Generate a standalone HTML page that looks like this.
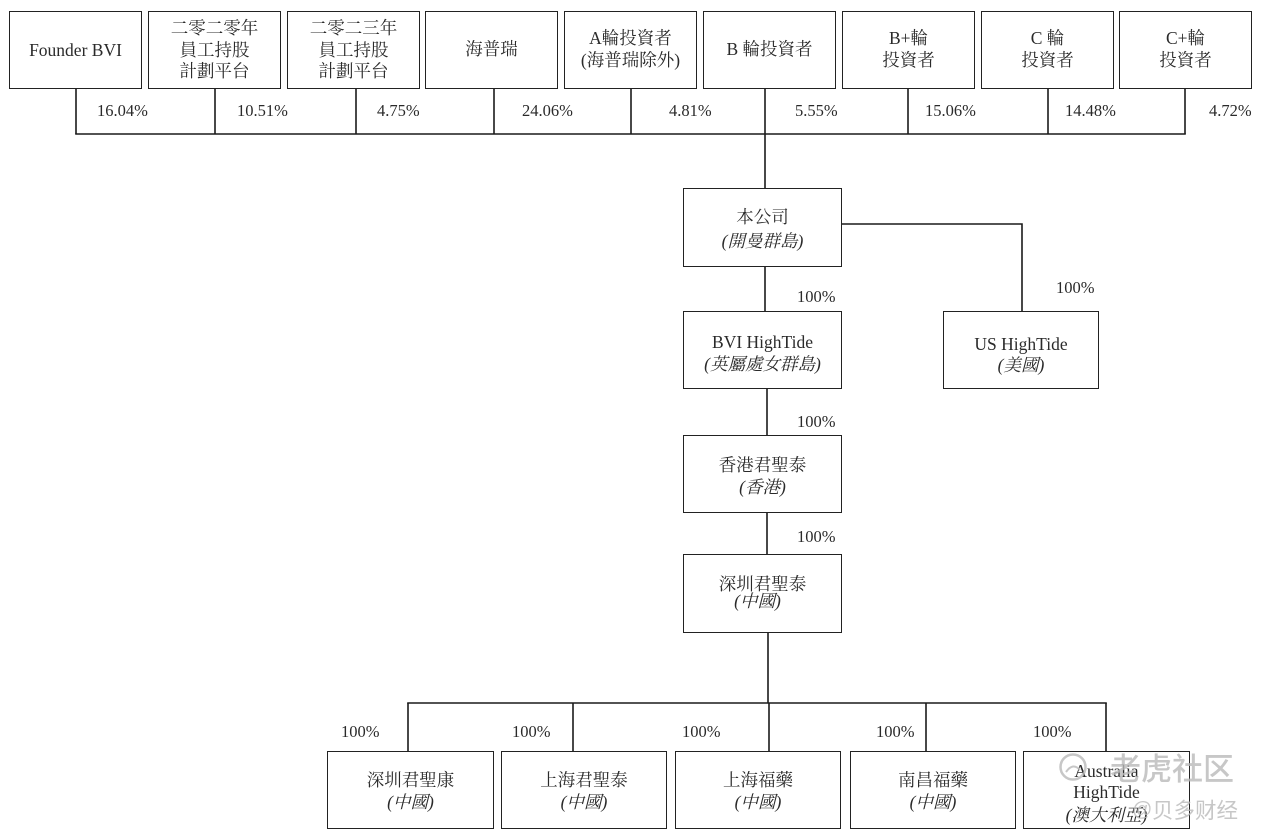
<!DOCTYPE html>
<html><head><meta charset="utf-8">
<style>
html,body{margin:0;padding:0;}
body{width:1262px;height:840px;background:#fff;position:relative;overflow:hidden;font-family:"Liberation Serif","Noto Serif CJK SC",serif;color:#2a2a2a;}
.b{position:absolute;border:1.5px solid #222;box-sizing:border-box;background:#fff;}
.t{position:absolute;text-align:center;font-size:17.5px;line-height:22px;height:22px;white-space:nowrap;}
.p{position:absolute;font-size:16.5px;line-height:20px;height:20px;white-space:nowrap;}
.i{font-style:italic;}
svg{position:absolute;left:0;top:0;}
.wm{position:absolute;white-space:nowrap;font-family:"Noto Sans CJK SC","Liberation Sans",sans-serif;color:rgba(185,185,185,0.8);}
</style></head><body>

<svg width="1262" height="840" viewBox="0 0 1262 840">
<g stroke="#1a1a1a" stroke-width="1.6" fill="none">
<line x1="76" y1="89" x2="76" y2="134"/>
<line x1="215" y1="89" x2="215" y2="134"/>
<line x1="356" y1="89" x2="356" y2="134"/>
<line x1="494" y1="89" x2="494" y2="134"/>
<line x1="631" y1="89" x2="631" y2="134"/>
<line x1="765" y1="89" x2="765" y2="188"/>
<line x1="908" y1="89" x2="908" y2="134"/>
<line x1="1048" y1="89" x2="1048" y2="134"/>
<line x1="1185" y1="89" x2="1185" y2="134"/>
<line x1="75.2" y1="134" x2="1185.8" y2="134"/>
<line x1="765" y1="267" x2="765" y2="311"/>
<polyline points="842,224 1022,224 1022,311"/>
<line x1="767" y1="389" x2="767" y2="435"/>
<line x1="767" y1="513" x2="767" y2="554"/>
<line x1="768" y1="633" x2="768" y2="703"/>
<line x1="407.2" y1="703" x2="1106.8" y2="703"/>
<line x1="408" y1="703" x2="408" y2="751"/>
<line x1="573" y1="703" x2="573" y2="751"/>
<line x1="769" y1="703" x2="769" y2="751"/>
<line x1="926" y1="703" x2="926" y2="751"/>
<line x1="1106" y1="703" x2="1106" y2="751"/>
</g>
</svg>

<div class="b" style="left:9px;top:11px;width:133px;height:78px;"></div>
<div class="b" style="left:148px;top:11px;width:133px;height:78px;"></div>
<div class="b" style="left:287px;top:11px;width:133px;height:78px;"></div>
<div class="b" style="left:425px;top:11px;width:133px;height:78px;"></div>
<div class="b" style="left:564px;top:11px;width:133px;height:78px;"></div>
<div class="b" style="left:703px;top:11px;width:133px;height:78px;"></div>
<div class="b" style="left:842px;top:11px;width:133px;height:78px;"></div>
<div class="b" style="left:981px;top:11px;width:133px;height:78px;"></div>
<div class="b" style="left:1119px;top:11px;width:133px;height:78px;"></div>

<div class="t" style="left:9px;width:133px;top:39px;">Founder BVI</div>
<div class="t" style="left:148px;width:133px;top:17px;">二零二零年</div>
<div class="t" style="left:148px;width:133px;top:39px;">員工持股</div>
<div class="t" style="left:148px;width:133px;top:60px;">計劃平台</div>
<div class="t" style="left:287px;width:133px;top:17px;">二零二三年</div>
<div class="t" style="left:287px;width:133px;top:39px;">員工持股</div>
<div class="t" style="left:287px;width:133px;top:60px;">計劃平台</div>
<div class="t" style="left:425px;width:133px;top:38px;">海普瑞</div>
<div class="t" style="left:564px;width:133px;top:27px;">A輪投資者</div>
<div class="t" style="left:564px;width:133px;top:49px;">(海普瑞除外)</div>
<div class="t" style="left:703px;width:133px;top:38px;">B 輪投資者</div>
<div class="t" style="left:842px;width:133px;top:27px;">B+輪</div>
<div class="t" style="left:842px;width:133px;top:49px;">投資者</div>
<div class="t" style="left:981px;width:133px;top:27px;">C 輪</div>
<div class="t" style="left:981px;width:133px;top:49px;">投資者</div>
<div class="t" style="left:1119px;width:133px;top:27px;">C+輪</div>
<div class="t" style="left:1119px;width:133px;top:49px;">投資者</div>

<div class="p" style="left:97px;top:101px;">16.04%</div>
<div class="p" style="left:237px;top:101px;">10.51%</div>
<div class="p" style="left:377px;top:101px;">4.75%</div>
<div class="p" style="left:522px;top:101px;">24.06%</div>
<div class="p" style="left:669px;top:101px;">4.81%</div>
<div class="p" style="left:795px;top:101px;">5.55%</div>
<div class="p" style="left:925px;top:101px;">15.06%</div>
<div class="p" style="left:1065px;top:101px;">14.48%</div>
<div class="p" style="left:1209px;top:101px;">4.72%</div>

<div class="b" style="left:683px;top:188px;width:159px;height:79px;"></div>
<div class="t" style="left:683px;width:159px;top:206px;">本公司</div>
<div class="t i" style="left:683px;width:159px;top:230px;">(開曼群島)</div>

<div class="b" style="left:683px;top:311px;width:159px;height:78px;"></div>
<div class="t" style="left:683px;width:159px;top:331px;">BVI HighTide</div>
<div class="t i" style="left:683px;width:159px;top:353px;">(英屬處女群島)</div>

<div class="b" style="left:943px;top:311px;width:156px;height:78px;"></div>
<div class="t" style="left:943px;width:156px;top:333px;">US HighTide</div>
<div class="t i" style="left:943px;width:156px;top:354px;">(美國)</div>

<div class="b" style="left:683px;top:435px;width:159px;height:78px;"></div>
<div class="t" style="left:683px;width:159px;top:454px;">香港君聖泰</div>
<div class="t i" style="left:683px;width:159px;top:476px;">(香港)</div>

<div class="b" style="left:683px;top:554px;width:159px;height:79px;"></div>
<div class="t" style="left:683px;width:159px;top:573px;">深圳君聖泰</div>
<div class="t i" style="left:678px;width:159px;top:590px;">(中國)</div>

<div class="p" style="left:797px;top:287px;">100%</div>
<div class="p" style="left:1056px;top:278px;">100%</div>
<div class="p" style="left:797px;top:412px;">100%</div>
<div class="p" style="left:797px;top:527px;">100%</div>

<div class="b" style="left:327px;top:751px;width:167px;height:78px;"></div>
<div class="t" style="left:327px;width:167px;top:769px;">深圳君聖康</div>
<div class="t i" style="left:327px;width:167px;top:791px;">(中國)</div>

<div class="b" style="left:501px;top:751px;width:166px;height:78px;"></div>
<div class="t" style="left:501px;width:166px;top:769px;">上海君聖泰</div>
<div class="t i" style="left:501px;width:166px;top:791px;">(中國)</div>

<div class="b" style="left:675px;top:751px;width:166px;height:78px;"></div>
<div class="t" style="left:675px;width:166px;top:769px;">上海福藥</div>
<div class="t i" style="left:675px;width:166px;top:791px;">(中國)</div>

<div class="b" style="left:850px;top:751px;width:166px;height:78px;"></div>
<div class="t" style="left:850px;width:166px;top:769px;">南昌福藥</div>
<div class="t i" style="left:850px;width:166px;top:791px;">(中國)</div>

<div class="b" style="left:1023px;top:751px;width:167px;height:78px;"></div>
<div class="t" style="left:1023px;width:167px;top:760px;">Australia</div>
<div class="t" style="left:1023px;width:167px;top:781px;">HighTide</div>
<div class="t i" style="left:1023px;width:167px;top:804px;">(澳大利亞)</div>

<div class="p" style="left:341px;top:722px;">100%</div>
<div class="p" style="left:512px;top:722px;">100%</div>
<div class="p" style="left:682px;top:722px;">100%</div>
<div class="p" style="left:876px;top:722px;">100%</div>
<div class="p" style="left:1033px;top:722px;">100%</div>

<svg width="1262" height="840" viewBox="0 0 1262 840" style="pointer-events:none;">
<circle cx="1073" cy="767" r="12.5" fill="none" stroke="rgba(185,185,185,0.8)" stroke-width="2.5"/>
<path d="M1066 772 q7 -10 14 -2" fill="none" stroke="rgba(185,185,185,0.8)" stroke-width="2"/>
</svg>
<div class="wm" style="left:1110px;top:746px;font-size:31px;line-height:42px;font-weight:500;">老虎社区</div>
<div class="wm" style="left:1132px;top:797px;font-size:20px;line-height:26px;font-family:'Liberation Sans',sans-serif;">@</div>
<div class="wm" style="left:1152px;top:797px;font-size:21.5px;line-height:26px;">贝多财经</div>

</body></html>
